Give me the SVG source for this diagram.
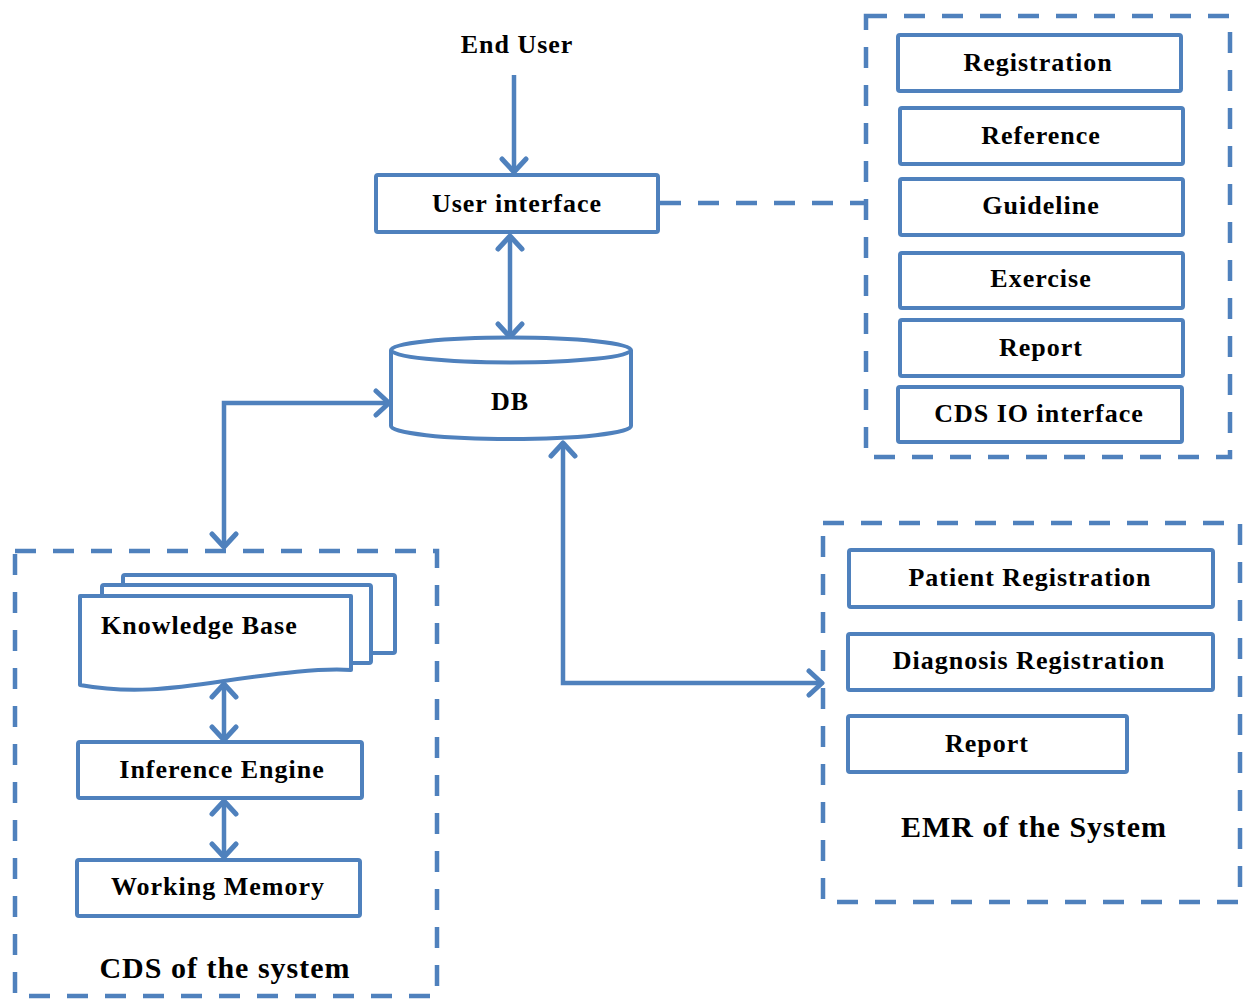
<svg xmlns="http://www.w3.org/2000/svg" width="1243" height="999" viewBox="0 0 1243 999">
  <style>
    .box { fill: #ffffff; stroke: #4F81BD; stroke-width: 4; }
    .group { fill: none; stroke: #4F81BD; stroke-width: 4.5; stroke-dasharray: 21 17; }
    .link { fill: none; stroke: #4F81BD; stroke-width: 4.5; }
    .dash { fill: none; stroke: #4F81BD; stroke-width: 4.5; stroke-dasharray: 21 17; }
    text { font-family: "Liberation Serif", "Times New Roman", serif; font-weight: bold; fill: #000000; }
    .lbl { font-size: 26px; letter-spacing: 1px; text-anchor: middle; }
    .title { font-size: 30px; letter-spacing: 1px; text-anchor: middle; }
  </style>
  <defs>
    <marker id="head" viewBox="0 0 26 30" refX="21" refY="15" markerWidth="26" markerHeight="30" markerUnits="userSpaceOnUse" orient="auto-start-reverse">
      <path d="M8,3 L21,15 L8,27" fill="none" stroke="#4F81BD" stroke-width="5" stroke-linecap="round" stroke-linejoin="round"/>
    </marker>
  </defs>

  <rect width="1243" height="999" fill="#ffffff"/>

  <!-- containers -->
  <g id="ui-modules">
    <rect class="group" x="866" y="16" width="364" height="441"/>
  </g>
  <g id="cds-system">
    <rect class="group" x="15" y="551" width="422" height="445"/>
    <text class="title" x="225" y="978">CDS of the system</text>
  </g>
  <g id="emr-system">
    <rect class="group" x="823" y="523" width="417" height="379"/>
    <text class="title" x="1034" y="837">EMR of the System</text>
  </g>

  <!-- connectors -->
  <g id="connectors">
    <path class="link" d="M514,75 V172" marker-end="url(#head)"/>
    <path class="link" d="M510,236 V337" marker-start="url(#head)" marker-end="url(#head)"/>
    <path class="link" d="M389,403 H224 V547" marker-start="url(#head)" marker-end="url(#head)"/>
    <path class="link" d="M563,443 V683 H822" marker-start="url(#head)" marker-end="url(#head)"/>
    <path class="link" d="M224,684 V740" marker-start="url(#head)" marker-end="url(#head)"/>
    <path class="link" d="M224,801 V857" marker-start="url(#head)" marker-end="url(#head)"/>
    <path class="dash" d="M660,203 H866"/>
  </g>

  <!-- top flow -->
  <g id="end-user">
    <text class="lbl" x="517" y="53">End User</text>
  </g>
  <g id="user-interface">
    <rect class="box" x="376" y="175" width="282" height="57" rx="2"/>
    <text class="lbl" x="517" y="212">User interface</text>
  </g>
  <g id="db">
    <path class="box" d="M391,350 V426 A120,13 0 0 0 631,426 V350"/>
    <ellipse class="box" cx="511" cy="350" rx="120" ry="12.5"/>
    <text class="lbl" x="510" y="410">DB</text>
  </g>

  <!-- UI modules -->
  <g id="registration">
    <rect class="box" x="898" y="35" width="283" height="56" rx="2"/>
    <text class="lbl" x="1038" y="71">Registration</text>
  </g>
  <g id="reference">
    <rect class="box" x="900" y="108" width="283" height="56" rx="2"/>
    <text class="lbl" x="1041" y="144">Reference</text>
  </g>
  <g id="guideline">
    <rect class="box" x="900" y="179" width="283" height="56" rx="2"/>
    <text class="lbl" x="1041" y="214">Guideline</text>
  </g>
  <g id="exercise">
    <rect class="box" x="900" y="253" width="283" height="55" rx="2"/>
    <text class="lbl" x="1041" y="287">Exercise</text>
  </g>
  <g id="report-ui">
    <rect class="box" x="900" y="320" width="283" height="56" rx="2"/>
    <text class="lbl" x="1041" y="356">Report</text>
  </g>
  <g id="cds-io">
    <rect class="box" x="898" y="387" width="284" height="55" rx="2"/>
    <text class="lbl" x="1039" y="422">CDS IO interface</text>
  </g>

  <!-- CDS internals -->
  <g id="knowledge-base">
    <rect class="box" x="123" y="575" width="272" height="78" rx="2"/>
    <rect class="box" x="102" y="585" width="269" height="78" rx="2"/>
    <path class="box" d="M80,596 H351 V670 C320,668 280,673 224,681 C170,689 130,694 80,685 Z" stroke-linejoin="round"/>
    <text x="101" y="634" font-size="26" letter-spacing="1">Knowledge Base</text>
  </g>
  <g id="inference-engine">
    <rect class="box" x="78" y="742" width="284" height="56" rx="2"/>
    <text class="lbl" x="222" y="778">Inference Engine</text>
  </g>
  <g id="working-memory">
    <rect class="box" x="77" y="860" width="283" height="56" rx="2"/>
    <text class="lbl" x="218" y="895">Working Memory</text>
  </g>

  <!-- EMR internals -->
  <g id="patient-registration">
    <rect class="box" x="849" y="550" width="364" height="57" rx="2"/>
    <text class="lbl" x="1030" y="586">Patient Registration</text>
  </g>
  <g id="diagnosis-registration">
    <rect class="box" x="848" y="634" width="365" height="56" rx="2"/>
    <text class="lbl" x="1029" y="669">Diagnosis Registration</text>
  </g>
  <g id="report-emr">
    <rect class="box" x="848" y="716" width="279" height="56" rx="2"/>
    <text class="lbl" x="987" y="752">Report</text>
  </g>
</svg>
